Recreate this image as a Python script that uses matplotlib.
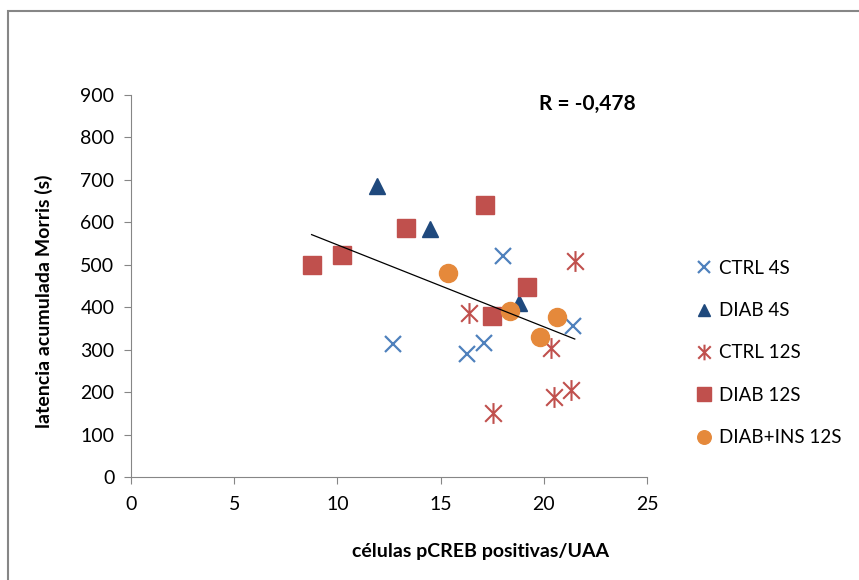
import numpy as np
import matplotlib.pyplot as plt
from matplotlib.path import Path
from matplotlib.patches import Rectangle

plt.rcParams['font.family'] = ['Lato', 'DejaVu Sans']

# células pCREB positivas/UAA (x) vs latencia acumulada Morris (y)
ctrl4_x = [12.7, 16.3, 17.1, 18.0, 21.4]
ctrl4_y = [313, 290, 316, 521, 356]

diab4_x = [11.9, 14.5, 18.8]
diab4_y = [685, 585, 410]

ctrl12_x = [16.4, 21.5, 20.35, 20.5, 21.3, 17.55]
ctrl12_y = [386, 509, 304, 188, 205, 151]

diab12_x = [8.75, 10.2, 13.3, 17.15, 19.2, 17.5]
diab12_y = [500, 523, 587, 641, 448, 379]

ins12_x = [15.35, 18.35, 20.65, 19.8]
ins12_y = [480, 391, 377, 330]

r_text = 'R = -0,478'

# asterisk: an x with a vertical stroke through it
star = Path([(-1, -1), (1, 1), (-1, 1), (1, -1), (0, -1.25), (0, 1.25)],
            [Path.MOVETO, Path.LINETO] * 3)

W, H = 859, 580
fig = plt.figure(figsize=(W / 100, H / 100), dpi=100)
fig.patches.append(Rectangle((8 / W, -0.1), 1.2, (H - 11) / H + 0.1,
                             transform=fig.transFigure, fill=False,
                             edgecolor='#868686', linewidth=1.5))
ax = fig.add_axes([131 / W, 103 / H, 516 / W, 382 / H])

series = [
    (ctrl4_x, ctrl4_y, 'CTRL 4S', dict(marker='x', color='#4F81BD', ms=11, mew=1.6)),
    (diab4_x, diab4_y, 'DIAB 4S', dict(marker='^', color='#1F497D', ms=12)),
    (ctrl12_x, ctrl12_y, 'CTRL 12S', dict(marker=star, color='#C0504D', ms=15, mew=1.5)),
    (diab12_x, diab12_y, 'DIAB 12S', dict(marker='s', color='#C0504D', ms=13)),
    (ins12_x, ins12_y, 'DIAB+INS 12S', dict(marker='o', color='#E5893B', ms=13)),
]
for xs, ys, lab, st in series:
    ax.plot(xs, ys, ls='none', label=lab, **st)

# linear trend over all points
all_x = np.concatenate([s[0] for s in series])
all_y = np.concatenate([s[1] for s in series])
slope, icpt = np.polyfit(all_x, all_y, 1)
lx = np.array([all_x.min(), all_x.max()])
ax.plot(lx, slope * lx + icpt, color='black', lw=0.9, zorder=5)

ax.set_xlim(0, 25)
ax.set_ylim(0, 900)
ax.set_xticks(range(0, 26, 5))
ax.set_yticks(range(0, 901, 100))
for s in ['top', 'right']:
    ax.spines[s].set_visible(False)
for s in ['left', 'bottom']:
    ax.spines[s].set_color('#868686')
ax.tick_params(colors='#868686', labelcolor='black', labelsize=14, length=5)
ax.tick_params(axis='y', pad=7)
ax.tick_params(axis='x', pad=9)

fig.text(481 / W, 1 - 552 / H, 'células pCREB positivas/UAA', fontsize=14,
         fontweight='bold', ha='center', va='center')
fig.text(44 / W, 1 - 301 / H, 'latencia acumulada Morris (s)', fontsize=14,
         fontweight='bold', ha='center', va='center', rotation=90)
fig.text(539 / W, 1 - 104 / H, r_text, fontsize=15, fontweight='bold', va='center')

fig.legend(loc='upper left', bbox_to_anchor=(678 / W, 1 - 243 / H),
           frameon=False, fontsize=13.5, markerscale=0.75, labelspacing=1.35,
           handlelength=1.0, handletextpad=0.3)

fig.savefig('out.png', dpi=100)
